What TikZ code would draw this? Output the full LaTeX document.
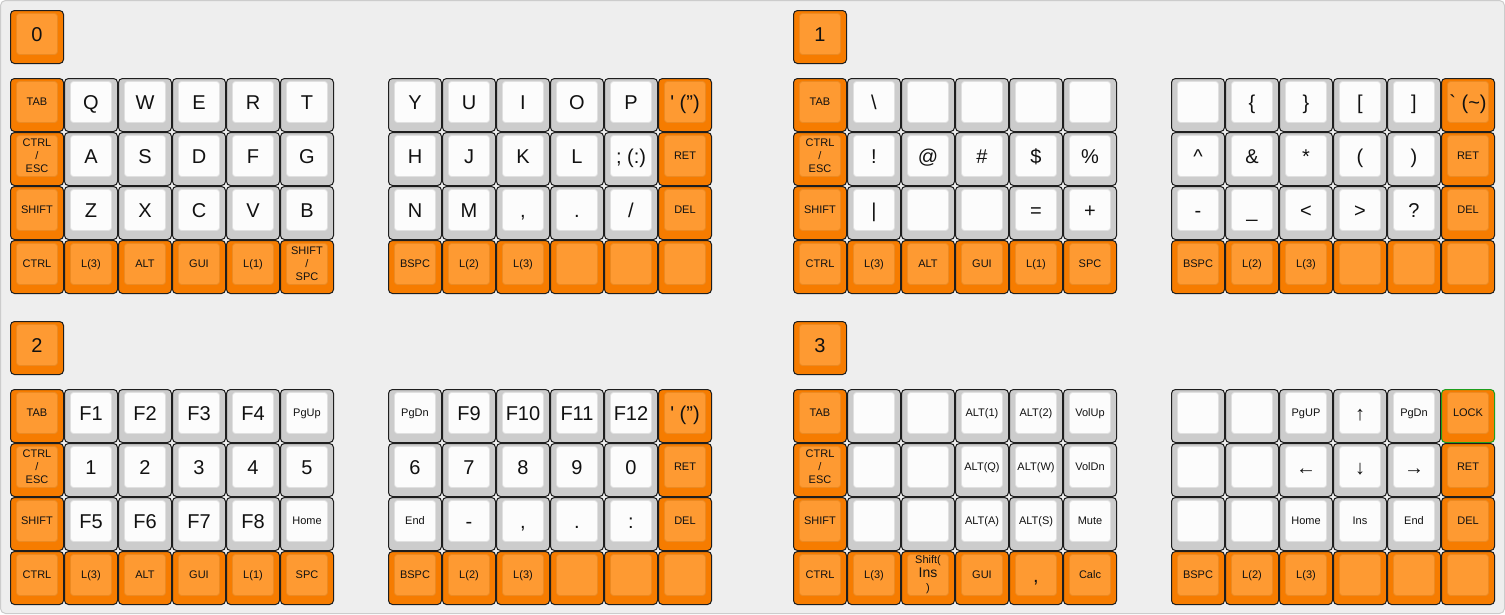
\documentclass[tikz,border=0pt]{standalone}
\usepackage{fontspec}
\setmainfont{Liberation Sans}
\definecolor{bgc}{HTML}{EEEEEE}
\definecolor{bgl}{HTML}{CCCCCC}
\definecolor{oo}{HTML}{F67C00}
\definecolor{oi}{HTML}{FE9A32}
\definecolor{oil}{HTML}{EC8A22}
\definecolor{wo}{HTML}{CCCCCC}
\definecolor{wi}{HTML}{FCFCFC}
\definecolor{wil}{HTML}{E0E0E0}
\definecolor{edge}{HTML}{1E1E1E}
\definecolor{lockc}{HTML}{1E9E1E}
\definecolor{txt}{HTML}{111111}
\tikzset{
  oout/.style={fill=oo,draw=edge,line width=1pt,rounded corners=4pt},
  gout/.style={fill=oo,draw=lockc,line width=1pt,rounded corners=4pt},
  wout/.style={fill=wo,draw=edge,line width=1pt,rounded corners=4pt},
  oin/.style={fill=oi,draw=oil,line width=0.8pt,rounded corners=3pt},
  gin/.style={oin},
  win/.style={fill=wi,draw=wil,line width=0.8pt,rounded corners=3pt},
  lbl/.style={text=txt,inner sep=0pt,outer sep=0pt},
  big/.style={font=\fontsize{20}{24}\selectfont,text height=14.3pt,text depth=0pt},
  sm/.style={font=\fontsize{11}{13}\selectfont,text height=7.9pt,text depth=0pt},
  ml/.style={font=\fontsize{11}{13}\selectfont,align=center},
  mlx/.style={font=\fontsize{11}{14}\selectfont,align=center},
}
% \K[label style]{name}{x}{y}{kind o/w/g}{label}
\newcommand\K[6][big]{%
  \path[#5out] (#3+0.5,#4+0.5) rectangle ++(53,53);
  \path[#5in] (#3+6.5,#4+3.5) rectangle ++(41,41);
  \node[lbl,#1] (#2) at (#3+27,#4+24) {#6};
}
\newcommand\Q{\textquotesingle}
\begin{document}
\begin{tikzpicture}[x=1pt,y=-1pt]
\useasboundingbox (0,0) rectangle (1505,614);
\path[fill=bgc,draw=bgl,line width=1pt,rounded corners=5pt] (0.5,0.5) rectangle (1504.5,613.5);

% ================= Layer 0 =================
\K{lab0}{10}{10}{o}{0}
\K[sm]{k0L11}{10}{78}{o}{TAB}
\K{k0L12}{64}{78}{w}{Q}
\K{k0L13}{118}{78}{w}{W}
\K{k0L14}{172}{78}{w}{E}
\K{k0L15}{226}{78}{w}{R}
\K{k0L16}{280}{78}{w}{T}
\K[ml]{k0L21}{10}{132}{o}{CTRL\\/\\ESC}
\K{k0L22}{64}{132}{w}{A}
\K{k0L23}{118}{132}{w}{S}
\K{k0L24}{172}{132}{w}{D}
\K{k0L25}{226}{132}{w}{F}
\K{k0L26}{280}{132}{w}{G}
\K[sm]{k0L31}{10}{186}{o}{SHIFT}
\K{k0L32}{64}{186}{w}{Z}
\K{k0L33}{118}{186}{w}{X}
\K{k0L34}{172}{186}{w}{C}
\K{k0L35}{226}{186}{w}{V}
\K{k0L36}{280}{186}{w}{B}
\K[sm]{k0L41}{10}{240}{o}{CTRL}
\K[sm]{k0L42}{64}{240}{o}{L(3)}
\K[sm]{k0L43}{118}{240}{o}{ALT}
\K[sm]{k0L44}{172}{240}{o}{GUI}
\K[sm]{k0L45}{226}{240}{o}{L(1)}
\K[ml]{k0L46}{280}{240}{o}{SHIFT\\/\\SPC}
\K{k0R11}{388}{78}{w}{Y}
\K{k0R12}{442}{78}{w}{U}
\K{k0R13}{496}{78}{w}{I}
\K{k0R14}{550}{78}{w}{O}
\K{k0R15}{604}{78}{w}{P}
\K{k0R16}{658}{78}{o}{\Q\ (")}
\K{k0R21}{388}{132}{w}{H}
\K{k0R22}{442}{132}{w}{J}
\K{k0R23}{496}{132}{w}{K}
\K{k0R24}{550}{132}{w}{L}
\K{k0R25}{604}{132}{w}{; (:)}
\K[sm]{k0R26}{658}{132}{o}{RET}
\K{k0R31}{388}{186}{w}{N}
\K{k0R32}{442}{186}{w}{M}
\K{k0R33}{496}{186}{w}{,}
\K{k0R34}{550}{186}{w}{.}
\K{k0R35}{604}{186}{w}{/}
\K[sm]{k0R36}{658}{186}{o}{DEL}
\K[sm]{k0R41}{388}{240}{o}{BSPC}
\K[sm]{k0R42}{442}{240}{o}{L(2)}
\K[sm]{k0R43}{496}{240}{o}{L(3)}
\K{k0R44}{550}{240}{o}{}
\K{k0R45}{604}{240}{o}{}
\K{k0R46}{658}{240}{o}{}

% ================= Layer 1 =================
\K{lab1}{793}{10}{o}{1}
\K[sm]{k1L11}{793}{78}{o}{TAB}
\K{k1L12}{847}{78}{w}{\textbackslash}
\K{k1L13}{901}{78}{w}{}
\K{k1L14}{955}{78}{w}{}
\K{k1L15}{1009}{78}{w}{}
\K{k1L16}{1063}{78}{w}{}
\K[ml]{k1L21}{793}{132}{o}{CTRL\\/\\ESC}
\K{k1L22}{847}{132}{w}{!}
\K{k1L23}{901}{132}{w}{@}
\K{k1L24}{955}{132}{w}{\#}
\K{k1L25}{1009}{132}{w}{\$}
\K{k1L26}{1063}{132}{w}{\%}
\K[sm]{k1L31}{793}{186}{o}{SHIFT}
\K{k1L32}{847}{186}{w}{|}
\K{k1L33}{901}{186}{w}{}
\K{k1L34}{955}{186}{w}{}
\K{k1L35}{1009}{186}{w}{=}
\K{k1L36}{1063}{186}{w}{+}
\K[sm]{k1L41}{793}{240}{o}{CTRL}
\K[sm]{k1L42}{847}{240}{o}{L(3)}
\K[sm]{k1L43}{901}{240}{o}{ALT}
\K[sm]{k1L44}{955}{240}{o}{GUI}
\K[sm]{k1L45}{1009}{240}{o}{L(1)}
\K[sm]{k1L46}{1063}{240}{o}{SPC}
\K{k1R11}{1171}{78}{w}{}
\K{k1R12}{1225}{78}{w}{\{}
\K{k1R13}{1279}{78}{w}{\}}
\K{k1R14}{1333}{78}{w}{[}
\K{k1R15}{1387}{78}{w}{]}
\K{k1R16}{1441}{78}{o}{\textasciigrave\ (\textasciitilde)}
\K{k1R21}{1171}{132}{w}{\textasciicircum}
\K{k1R22}{1225}{132}{w}{\&}
\K{k1R23}{1279}{132}{w}{*}
\K{k1R24}{1333}{132}{w}{(}
\K{k1R25}{1387}{132}{w}{)}
\K[sm]{k1R26}{1441}{132}{o}{RET}
\K{k1R31}{1171}{186}{w}{-}
\K{k1R32}{1225}{186}{w}{\_}
\K{k1R33}{1279}{186}{w}{<}
\K{k1R34}{1333}{186}{w}{>}
\K{k1R35}{1387}{186}{w}{?}
\K[sm]{k1R36}{1441}{186}{o}{DEL}
\K[sm]{k1R41}{1171}{240}{o}{BSPC}
\K[sm]{k1R42}{1225}{240}{o}{L(2)}
\K[sm]{k1R43}{1279}{240}{o}{L(3)}
\K{k1R44}{1333}{240}{o}{}
\K{k1R45}{1387}{240}{o}{}
\K{k1R46}{1441}{240}{o}{}

% ================= Layer 2 =================
\K{lab2}{10}{321}{o}{2}
\K[sm]{k2L11}{10}{389}{o}{TAB}
\K{k2L12}{64}{389}{w}{F1}
\K{k2L13}{118}{389}{w}{F2}
\K{k2L14}{172}{389}{w}{F3}
\K{k2L15}{226}{389}{w}{F4}
\K[sm]{k2L16}{280}{389}{w}{PgUp}
\K[ml]{k2L21}{10}{443}{o}{CTRL\\/\\ESC}
\K{k2L22}{64}{443}{w}{1}
\K{k2L23}{118}{443}{w}{2}
\K{k2L24}{172}{443}{w}{3}
\K{k2L25}{226}{443}{w}{4}
\K{k2L26}{280}{443}{w}{5}
\K[sm]{k2L31}{10}{497}{o}{SHIFT}
\K{k2L32}{64}{497}{w}{F5}
\K{k2L33}{118}{497}{w}{F6}
\K{k2L34}{172}{497}{w}{F7}
\K{k2L35}{226}{497}{w}{F8}
\K[sm]{k2L36}{280}{497}{w}{Home}
\K[sm]{k2L41}{10}{551}{o}{CTRL}
\K[sm]{k2L42}{64}{551}{o}{L(3)}
\K[sm]{k2L43}{118}{551}{o}{ALT}
\K[sm]{k2L44}{172}{551}{o}{GUI}
\K[sm]{k2L45}{226}{551}{o}{L(1)}
\K[sm]{k2L46}{280}{551}{o}{SPC}
\K[sm]{k2R11}{388}{389}{w}{PgDn}
\K{k2R12}{442}{389}{w}{F9}
\K{k2R13}{496}{389}{w}{F10}
\K{k2R14}{550}{389}{w}{F11}
\K{k2R15}{604}{389}{w}{F12}
\K{k2R16}{658}{389}{o}{\Q\ (")}
\K{k2R21}{388}{443}{w}{6}
\K{k2R22}{442}{443}{w}{7}
\K{k2R23}{496}{443}{w}{8}
\K{k2R24}{550}{443}{w}{9}
\K{k2R25}{604}{443}{w}{0}
\K[sm]{k2R26}{658}{443}{o}{RET}
\K[sm]{k2R31}{388}{497}{w}{End}
\K{k2R32}{442}{497}{w}{-}
\K{k2R33}{496}{497}{w}{,}
\K{k2R34}{550}{497}{w}{.}
\K{k2R35}{604}{497}{w}{:}
\K[sm]{k2R36}{658}{497}{o}{DEL}
\K[sm]{k2R41}{388}{551}{o}{BSPC}
\K[sm]{k2R42}{442}{551}{o}{L(2)}
\K[sm]{k2R43}{496}{551}{o}{L(3)}
\K{k2R44}{550}{551}{o}{}
\K{k2R45}{604}{551}{o}{}
\K{k2R46}{658}{551}{o}{}

% ================= Layer 3 =================
\K{lab3}{793}{321}{o}{3}
\K[sm]{k3L11}{793}{389}{o}{TAB}
\K{k3L12}{847}{389}{w}{}
\K{k3L13}{901}{389}{w}{}
\K[sm]{k3L14}{955}{389}{w}{ALT(1)}
\K[sm]{k3L15}{1009}{389}{w}{ALT(2)}
\K[sm]{k3L16}{1063}{389}{w}{VolUp}
\K[ml]{k3L21}{793}{443}{o}{CTRL\\/\\ESC}
\K{k3L22}{847}{443}{w}{}
\K{k3L23}{901}{443}{w}{}
\K[sm]{k3L24}{955}{443}{w}{ALT(Q)}
\K[sm]{k3L25}{1009}{443}{w}{ALT(W)}
\K[sm]{k3L26}{1063}{443}{w}{VolDn}
\K[sm]{k3L31}{793}{497}{o}{SHIFT}
\K{k3L32}{847}{497}{w}{}
\K{k3L33}{901}{497}{w}{}
\K[sm]{k3L34}{955}{497}{w}{ALT(A)}
\K[sm]{k3L35}{1009}{497}{w}{ALT(S)}
\K[sm]{k3L36}{1063}{497}{w}{Mute}
\K[sm]{k3L41}{793}{551}{o}{CTRL}
\K[sm]{k3L42}{847}{551}{o}{L(3)}
\K[mlx]{k3L43}{901}{551}{o}{Shift(\\{\fontsize{14}{14}\selectfont Ins}\\)}
\K[sm]{k3L44}{955}{551}{o}{GUI}
\K{k3L45}{1009}{551}{o}{,}
\K[sm]{k3L46}{1063}{551}{o}{Calc}
\K{k3R11}{1171}{389}{w}{}
\K{k3R12}{1225}{389}{w}{}
\K[sm]{k3R13}{1279}{389}{w}{PgUP}
\K{k3R14}{1333}{389}{w}{↑}
\K[sm]{k3R15}{1387}{389}{w}{PgDn}
\K[sm]{k3R16}{1441}{389}{g}{LOCK}
\K{k3R21}{1171}{443}{w}{}
\K{k3R22}{1225}{443}{w}{}
\K{k3R23}{1279}{443}{w}{←}
\K{k3R24}{1333}{443}{w}{↓}
\K{k3R25}{1387}{443}{w}{→}
\K[sm]{k3R26}{1441}{443}{o}{RET}
\K{k3R31}{1171}{497}{w}{}
\K{k3R32}{1225}{497}{w}{}
\K[sm]{k3R33}{1279}{497}{w}{Home}
\K[sm]{k3R34}{1333}{497}{w}{Ins}
\K[sm]{k3R35}{1387}{497}{w}{End}
\K[sm]{k3R36}{1441}{497}{o}{DEL}
\K[sm]{k3R41}{1171}{551}{o}{BSPC}
\K[sm]{k3R42}{1225}{551}{o}{L(2)}
\K[sm]{k3R43}{1279}{551}{o}{L(3)}
\K{k3R44}{1333}{551}{o}{}
\K{k3R45}{1387}{551}{o}{}
\K{k3R46}{1441}{551}{o}{}
\end{tikzpicture}
\end{document}
